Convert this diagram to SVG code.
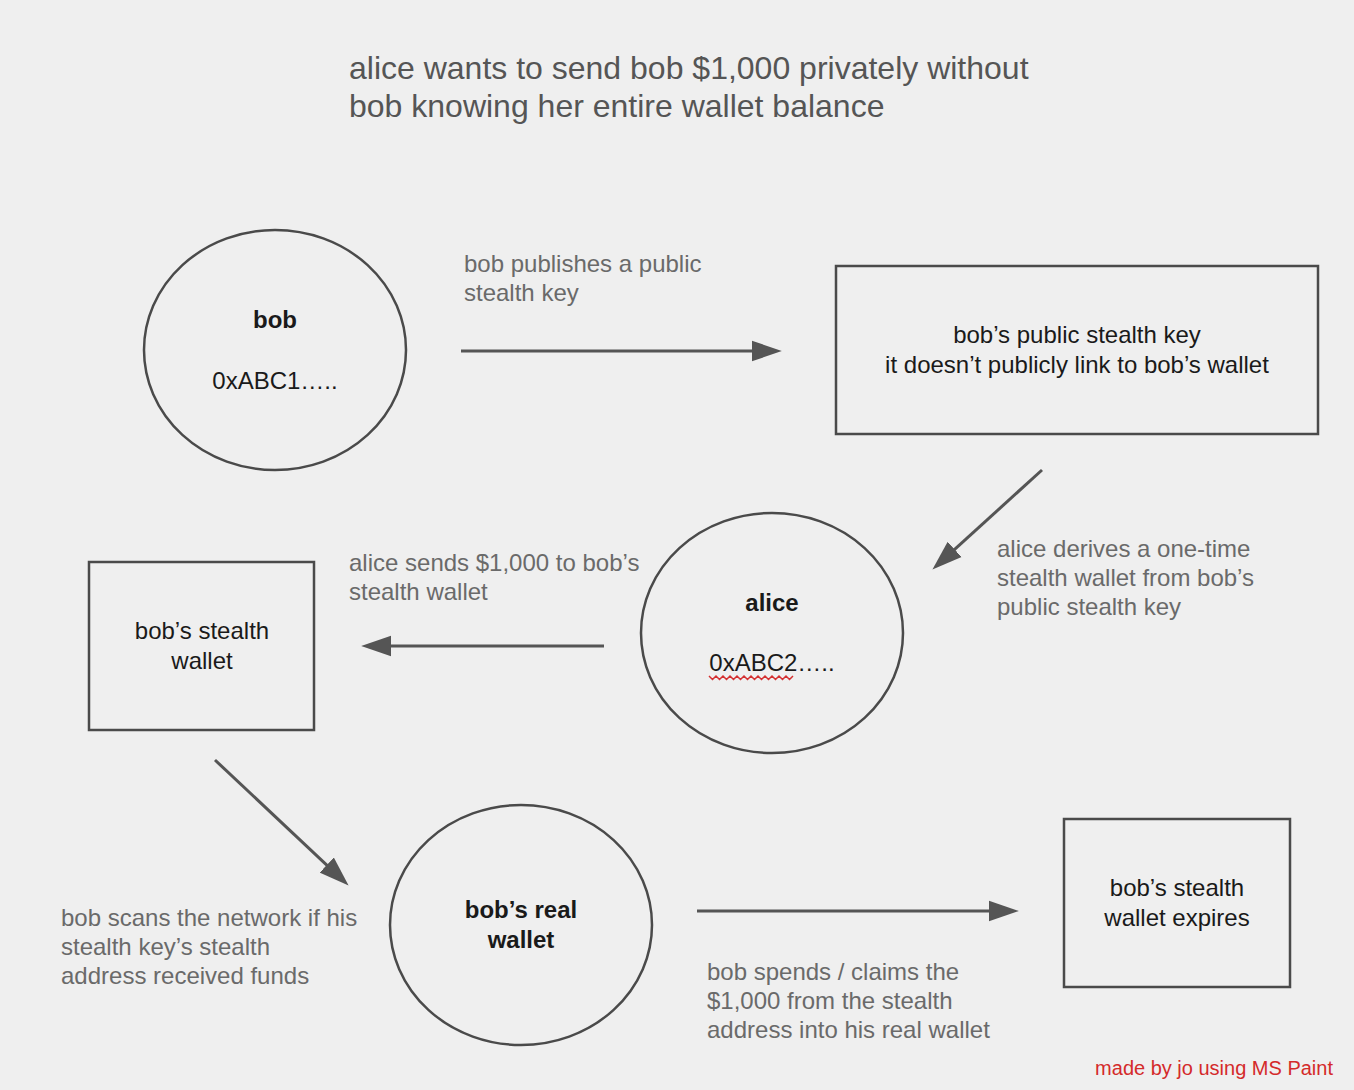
<svg xmlns="http://www.w3.org/2000/svg" width="1354" height="1090" viewBox="0 0 1354 1090">
<defs>
<marker id="ah" markerUnits="userSpaceOnUse" markerWidth="30" markerHeight="22" viewBox="0 0 29 20" refX="5" refY="10" orient="auto">
<path d="M0,0 L29,10 L0,20 z" fill="#555"/>
</marker>
</defs>
<style>
.bg{fill:#efefef}
.node{fill:none;stroke:#4a4a4a;stroke-width:2.5}
.nt{font-family:"Liberation Sans",Arial,sans-serif;font-size:24px;fill:#1a1a1a;text-anchor:middle}
.nb{font-weight:bold}
.lbl{font-family:"Liberation Sans",Arial,sans-serif;font-size:24px;fill:#6a6a6a}
.title{font-family:"Liberation Sans",Arial,sans-serif;font-size:32px;fill:#555}
.edge{stroke:#555;stroke-width:3;fill:none;marker-end:url(#ah)}
.credit{font-family:"Liberation Sans",Arial,sans-serif;font-size:20px;fill:#d42a2a;text-anchor:end}
</style>
<rect class="bg" x="0" y="0" width="1354" height="1090"/>
<g id="title">
<text class="title" x="349" y="79">alice wants to send bob $1,000 privately without</text>
<text class="title" x="349" y="117">bob knowing her entire wallet balance</text>
</g>
<g id="bob">
<ellipse class="node" cx="275" cy="350" rx="131" ry="120"/>
<text class="nt nb" x="275" y="328">bob</text>
<text class="nt" x="275" y="389">0xABC1…..</text>
</g>
<g id="public-key">
<rect class="node" x="836" y="266" width="482" height="168"/>
<text class="nt" x="1077" y="343">bob’s public stealth key</text>
<text class="nt" x="1077" y="373">it doesn’t publicly link to bob’s wallet</text>
</g>
<g id="alice">
<ellipse class="node" cx="772" cy="633" rx="131" ry="120"/>
<text class="nt nb" x="772" y="611">alice</text>
<text class="nt" x="772" y="671">0xABC2…..</text>
<path d="M709,676 l3.5,3.5 l3.5,-3.5 l3.5,3.5 l3.5,-3.5 l3.5,3.5 l3.5,-3.5 l3.5,3.5 l3.5,-3.5 l3.5,3.5 l3.5,-3.5 l3.5,3.5 l3.5,-3.5 l3.5,3.5 l3.5,-3.5 l3.5,3.5 l3.5,-3.5 l3.5,3.5 l3.5,-3.5 l3.5,3.5 l3.5,-3.5 l3.5,3.5 l3.5,-3.5 l3.5,3.5 l3.5,-3.5" fill="none" stroke="#d43030" stroke-width="1.5"/>
</g>
<g id="stealth-wallet">
<rect class="node" x="89" y="562" width="225" height="168"/>
<text class="nt" x="202" y="639">bob’s stealth</text>
<text class="nt" x="202" y="669">wallet</text>
</g>
<g id="real-wallet">
<ellipse class="node" cx="521" cy="925" rx="131" ry="120"/>
<text class="nt nb" x="521" y="918">bob’s real</text>
<text class="nt nb" x="521" y="948">wallet</text>
</g>
<g id="expires">
<rect class="node" x="1064" y="819" width="226" height="168"/>
<text class="nt" x="1177" y="896">bob’s stealth</text>
<text class="nt" x="1177" y="926">wallet expires</text>
</g>
<g id="connectors">
<line class="edge" x1="461" y1="351" x2="757" y2="351"/>
<line class="edge" x1="1042" y1="470" x2="950.8" y2="552.9"/>
<line class="edge" x1="604" y1="646" x2="386" y2="646"/>
<line class="edge" x1="215" y1="760" x2="330.5" y2="868.6"/>
<line class="edge" x1="697" y1="911" x2="994" y2="911"/>
</g>
<g id="labels">
<text class="lbl" x="464" y="272">bob publishes a public</text>
<text class="lbl" x="464" y="301">stealth key</text>
<text class="lbl" x="997" y="557">alice derives a one-time</text>
<text class="lbl" x="997" y="586">stealth wallet from bob’s</text>
<text class="lbl" x="997" y="615">public stealth key</text>
<text class="lbl" x="349" y="571">alice sends $1,000 to bob’s</text>
<text class="lbl" x="349" y="600">stealth wallet</text>
<text class="lbl" x="61" y="926">bob scans the network if his</text>
<text class="lbl" x="61" y="955">stealth key’s stealth</text>
<text class="lbl" x="61" y="984">address received funds</text>
<text class="lbl" x="707" y="980">bob spends / claims the</text>
<text class="lbl" x="707" y="1009">$1,000 from the stealth</text>
<text class="lbl" x="707" y="1038">address into his real wallet</text>
</g>
<text class="credit" x="1333" y="1075">made by jo using MS Paint</text>
</svg>
